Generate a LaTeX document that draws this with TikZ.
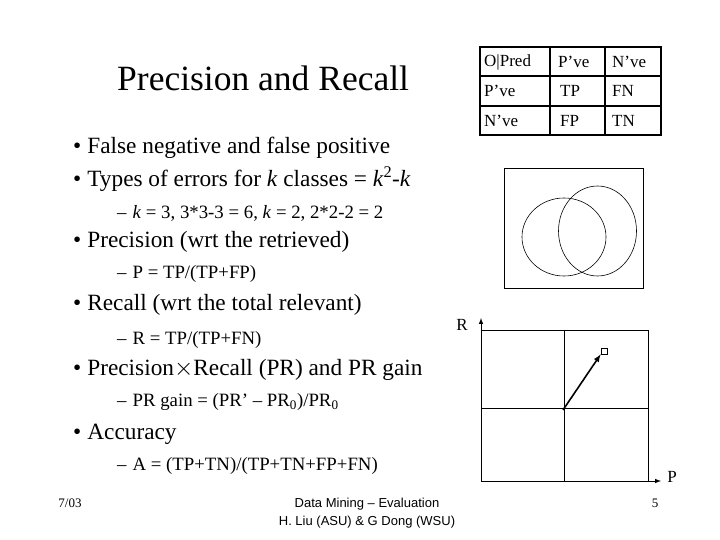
\documentclass[tikz,border=0pt]{standalone}
\usepackage{fontspec}
\setmainfont{Liberation Serif}
\setsansfont{Liberation Sans}
\begin{document}
\begin{tikzpicture}[x=1pt,y=-1pt,
  bul/.style={anchor=west,font=\fontsize{23.3}{26}\selectfont,inner sep=0},
  sub/.style={anchor=west,font=\fontsize{18.8}{22}\selectfont,inner sep=0},
  cell/.style={anchor=west,font=\fontsize{17}{19}\selectfont,inner sep=0},
  foot/.style={font=\sffamily\fontsize{13}{15}\selectfont,inner sep=0}]
\useasboundingbox (0,0) rectangle (720,540);
\node[anchor=west,inner sep=0,font=\fontsize{35.5}{40}\selectfont] (title) at (117,78) {Precision and Recall};
\node[bul] (b1) at (73,148) {\textbullet\hspace{6pt}False negative and false positive};
\node[bul] (b2) at (73,179) {\textbullet\hspace{6pt}Types of errors for \textit{k} classes = \textit{k}\textsuperscript{2}-\textit{k}};
\node[sub] (s1) at (117,213) {–\hspace{6pt}\textit{k} = 3, 3*3-3 = 6, \textit{k} = 2, 2*2-2 = 2};
\node[bul] (b3) at (73,242) {\textbullet\hspace{6pt}Precision (wrt the retrieved)};
\node[sub] (s2) at (117,274) {–\hspace{6pt}P = TP/(TP+FP)};
\node[bul] (b4) at (73,305) {\textbullet\hspace{6pt}Recall (wrt the total relevant)};
\node[sub] (s3) at (117,340) {–\hspace{6pt}R = TP/(TP+FN)};
\node[bul] (b5) at (73,370) {\textbullet\hspace{6pt}Precision$\times$Recall (PR) and PR gain};
\node[sub] (s4) at (117,402) {–\hspace{6pt}PR gain = (PR’ – PR\textsubscript{0})/PR\textsubscript{0}};
\node[bul] (b6) at (73,434) {\textbullet\hspace{6pt}Accuracy};
\node[sub] (s5) at (117,466) {–\hspace{6pt}A = (TP+TN)/(TP+TN+FP+FN)};
\node[font=\fontsize{13}{15}\selectfont,inner sep=0] (f1) at (70,503) {7/03};
\node[foot] (f2) at (367,504) {Data Mining – Evaluation};
\node[foot] (f3) at (367,522) {H. Liu (ASU) \& G Dong (WSU)};
\node[font=\fontsize{13}{15}\selectfont,inner sep=0] (f4) at (655,503) {5};
% table
\draw[line width=1.6pt] (480,47) rectangle (661,135);
\draw[line width=1.2pt] (550,47) -- (550,135) (605,47) -- (605,135) (480,76) -- (661,76) (480,106) -- (661,106);
\node[cell] (c11) at (484,62) {O|Pred};
\node[cell] (c12) at (558,62) {P’ve};
\node[cell] (c13) at (612,62) {N’ve};
\node[cell] (c21) at (484,91) {P’ve};
\node[cell] (c22) at (560,91) {TP};
\node[cell] (c23) at (612,91) {FN};
\node[cell] (c31) at (484,121) {N’ve};
\node[cell] (c32) at (560,121) {FP};
\node[cell] (c33) at (612,121) {TN};
% venn
\draw[line width=0.8pt] (504,168) rectangle (643,288);
\draw[line width=0.6pt] (564,237) ellipse [x radius=42,y radius=39];
\draw[line width=0.6pt] (597.5,231) ellipse [x radius=39,y radius=45];
% PR graph
\draw[line width=0.8pt] (481,330) rectangle (648,481);
\draw[line width=0.8pt] (564,330) -- (564,481) (481,408) -- (648,408);
\coordinate (o) at (481,481);
\coordinate (ry) at (481,318);
\coordinate (px) at (661,481);
\draw[line width=1pt,-latex] (o) -- (ry);
\draw[line width=1pt,-latex] (o) -- (px);
\node[font=\fontsize{17}{20}\selectfont,inner sep=0] (R) at (462,325) {R};
\node[font=\fontsize{17}{20}\selectfont,inner sep=0] (P) at (672,477) {P};
\node[draw,line width=0.7pt,minimum size=6pt,inner sep=0] (sq) at (604,351) {};
\coordinate (st) at (563,410);
\draw[line width=1.6pt,-latex] (st) -- (sq.south west);
\end{tikzpicture}
\end{document}
